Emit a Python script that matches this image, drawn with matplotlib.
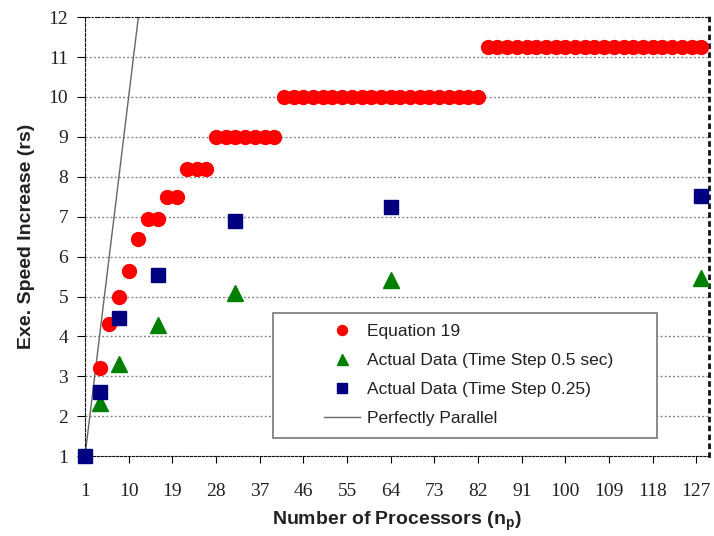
import matplotlib
matplotlib.use("Agg")
import matplotlib.pyplot as plt
from matplotlib.patches import Rectangle

# Equation 19 (predicted speed increase)
eq_x = [4, 6, 8, 10, 12, 14, 16, 18, 20, 22, 24, 26] + list(range(28, 41, 2)) + list(range(42, 83, 2)) + list(range(84, 129, 2))
eq_y = [3.22, 4.3, 5.0, 5.63, 6.45, 6.95, 6.95, 7.5, 7.5, 8.2, 8.2, 8.2] + [9.0] * 7 + [10.0] * 21 + [11.25] * 23

# measured data
act05_x = [4, 8, 16, 32, 64, 128]
act05_y = [2.32, 3.3, 4.28, 5.08, 5.42, 5.47]
act025_x = [1, 4, 8, 16, 32, 64, 128]
act025_y = [1.0, 2.6, 4.45, 5.55, 6.88, 7.25, 7.53]

par_x = [1, 12]
par_y = [1, 12]

xticks = list(range(1, 128, 9))
yticks = list(range(1, 13))

fig = plt.figure(figsize=(7.14, 5.36), dpi=100)
ax = fig.add_axes([0.119, 0.149, 0.874, 0.819])

for y in yticks[1:-1]:
    ax.axhline(y, color="#8a8a8a", lw=1.0, ls=(0, (1.5, 1.5)), zorder=0)

ax.plot(par_x, par_y, color="#666666", lw=1.0, label="Perfectly Parallel", zorder=2)
ax.plot(eq_x, eq_y, ls="none", marker="o", ms=10, color="#ff0000", label="Equation 19",
        zorder=3, clip_on=False)
ax.plot(act05_x, act05_y, ls="none", marker="^", ms=11, color="#008000",
        label="Actual Data (Time Step 0.5 sec)", zorder=4, clip_on=False)
ax.plot(act025_x, act025_y, ls="none", marker="s", ms=9.5, color="#000080",
        label="Actual Data (Time Step 0.25)", zorder=5, clip_on=False)

ax.set_xlim(1, 129.6)
ax.set_ylim(1, 12)
ax.set_xticks(xticks)
ax.set_yticks(yticks)
for lab in ax.get_xticklabels() + ax.get_yticklabels():
    lab.set_fontfamily("Liberation Serif")
    lab.set_fontsize(14)
    lab.set_color("#222222")
ax.tick_params(axis="x", direction="out", length=5, pad=14, width=0.8)
ax.tick_params(axis="y", direction="out", length=6, pad=6, width=0.8)

ax.spines["left"].set_linestyle((0, (3, 1.5)))
ax.spines["bottom"].set_linestyle((0, (2, 1.5)))
ax.spines["top"].set_linestyle((0, (4, 2, 1, 2)))
ax.spines["right"].set_linestyle((0, (1, 2.2)))
ax.spines["right"].set_linewidth(2)
for s in ax.spines.values():
    s.set_color("#111111")

ax.set_xlabel("Number of Processors (n$_\\mathregular{p}$)", fontsize=14, fontweight="bold",
              fontfamily="Liberation Sans", labelpad=7, color="#222222")
ax.set_ylabel("Exe. Speed Increase (rs)", fontsize=14, fontweight="bold",
              fontfamily="Liberation Sans", labelpad=10, color="#222222")

# legend box drawn by hand so the entries can sit indented like the original
ax.add_patch(Rectangle((0.302, 0.041), 0.615, 0.285, transform=ax.transAxes,
                       facecolor="white", edgecolor="#777777", lw=1.2, zorder=6))

h, l = ax.get_legend_handles_labels()
order = [1, 2, 3, 0]
leg = ax.legend([h[i] for i in order], [l[i] for i in order], loc="upper left",
                bbox_to_anchor=(0.383, 0.301), frameon=False,
                prop={"family": "Liberation Sans", "size": 12.5}, markerscale=0.72,
                handlelength=2.1, handletextpad=0.35, borderpad=0,
                labelspacing=0.79, borderaxespad=0)
leg.set_zorder(7)
for t in leg.get_texts():
    t.set_color("#222222")

fig.savefig("out.png", dpi=100)
